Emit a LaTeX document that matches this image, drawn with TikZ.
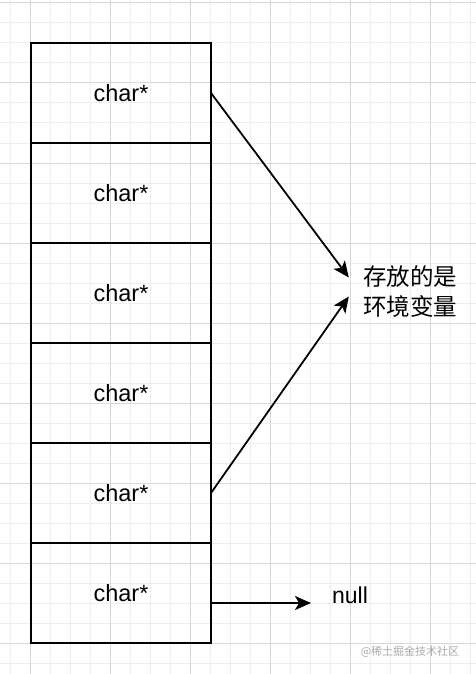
\documentclass[tikz,border=0pt]{standalone}
\usepackage{fontspec}
\setmainfont{Liberation Sans}
\newfontfamily\cjk{Noto Sans CJK SC}
\usepackage{xcolor}
\usetikzlibrary{arrows.meta,positioning}
\definecolor{gridlight}{HTML}{EEEEEE}
\definecolor{griddark}{HTML}{D8D8D8}
\tikzset{
  cellbox/.style={draw, line width=2pt, minimum width=180pt, minimum height=100pt, outer sep=0pt, inner sep=0pt, font=\fontsize{23.5}{28}\selectfont},
  ptrarrow/.style={-{Stealth[length=16pt, width=14pt, inset=4pt]}, line width=1.8pt},
  notelabel/.style={align=left, inner sep=14pt, font=\cjk\fontsize{23.5}{30}\selectfont},
  gridminor/.style={gridlight, line width=1pt},
  gridmajor/.style={griddark, line width=1pt}
}

\begin{document}
\begin{tikzpicture}[x=1pt, y=-1pt]
  \useasboundingbox[fill=white] (0,0) rectangle (476,674);
  % background grid
  \foreach \x in {10,30,...,470} \draw[gridminor] (\x,0) -- (\x,674);
  \foreach \y in {3,23,...,663} \draw[gridminor] (0,\y) -- (476,\y);
  \foreach \x in {30,110,...,430} \draw[gridmajor] (\x,0) -- (\x,674);
  \foreach \y in {3,83,...,643} \draw[gridmajor] (0,\y) -- (476,\y);

  \node[cellbox] (cell1) at (121,93) {char*};
  \node[cellbox, below=0pt of cell1] (cell2) {char*};
  \node[cellbox, below=0pt of cell2] (cell3) {char*};
  \node[cellbox, below=0pt of cell3] (cell4) {char*};
  \node[cellbox, below=0pt of cell4] (cell5) {char*};
  \node[cellbox, below=0pt of cell5] (cell6) {char*};

  \node[notelabel] (envnote) at (410,291.5) {存放的是\\环境变量};
  \node[font=\fontsize{23}{27}\selectfont] (nullnote) at (350,595) {null};
  \coordinate (nullend) at (311,603);

  \draw[ptrarrow] (cell1.east) -- ([yshift=14pt]envnote.west);
  \draw[ptrarrow] (cell5.east) -- ([yshift=-5pt]envnote.west);
  \draw[ptrarrow] ([yshift=-10pt]cell6.east) -- (nullend);

  \node[font=\cjk\fontsize{11}{13}\selectfont, text=black!33] (mark) at (410,652) {@稀土掘金技术社区};
\end{tikzpicture}
\end{document}
